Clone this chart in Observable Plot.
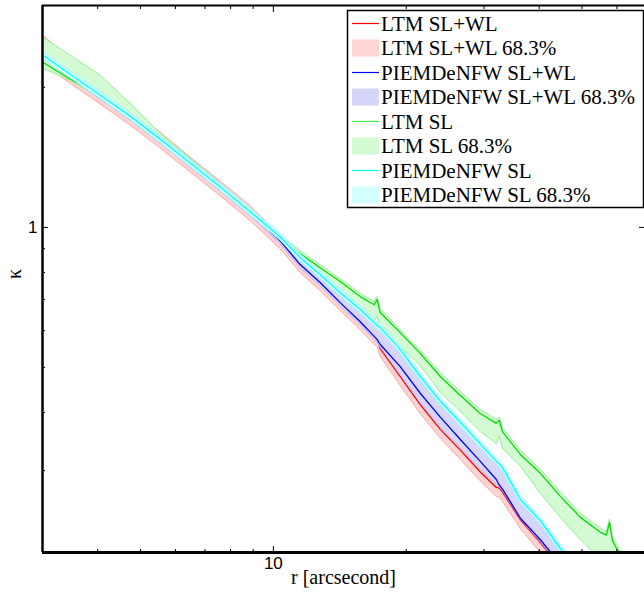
<!DOCTYPE html>
<html><head><meta charset="utf-8">
<script src="https://cdn.jsdelivr.net/npm/d3@7"></script>
<script src="https://cdn.jsdelivr.net/npm/@observablehq/plot@0.6"></script>
<style>body{margin:0;background:#fff} #chart{width:644px;height:592px}</style>
</head><body><div id="chart"></div>
<script>
// radius r [arcsecond] (shared grid)
const r = [3.00, 3.46, 4.05, 4.73, 5.53, 6.47, 7.57, 8.86, 10.36, 11.50, 12.76, 14.17, 15.73, 16.92, 17.18, 17.46, 19.38, 21.51, 23.88, 26.51, 29.42, 31.99, 32.49, 33.01, 36.26, 40.25, 44.67, 49.59, 55.05, 56.80, 57.70, 58.61, 61.11, 69.65];

// LTM SL+WL
const ltmSLWL    = [2.336, 2.127, 1.917, 1.728, 1.543, 1.370, 1.217, 1.075, 0.936, 0.832, 0.761, 0.689, 0.627, 0.583, 0.574, 0.549, 0.478, 0.416, 0.368, 0.332, 0.298, 0.276, 0.275, 0.270, 0.235, 0.210, 0.186, 0.164, 0.145, 0.140, 0.138, 0.135, 0.128, 0.114];
const ltmSLWLlo  = [2.245, 2.044, 1.843, 1.661, 1.483, 1.317, 1.170, 1.034, 0.900, 0.800, 0.731, 0.663, 0.603, 0.560, 0.555, 0.528, 0.457, 0.398, 0.352, 0.317, 0.285, 0.264, 0.263, 0.258, 0.225, 0.200, 0.178, 0.157, 0.139, 0.134, 0.132, 0.129, 0.123, 0.109];
const ltmSLWLhi  = [2.592, 2.313, 2.034, 1.806, 1.605, 1.418, 1.259, 1.113, 0.964, 0.852, 0.772, 0.700, 0.637, 0.594, 0.589, 0.571, 0.497, 0.433, 0.383, 0.345, 0.310, 0.287, 0.286, 0.280, 0.244, 0.218, 0.194, 0.171, 0.151, 0.146, 0.143, 0.140, 0.134, 0.118];
// PIEMDeNFW SL+WL
const piemdSLWL   = [2.336, 2.127, 1.917, 1.728, 1.543, 1.370, 1.217, 1.075, 0.936, 0.832, 0.761, 0.689, 0.627, 0.583, 0.574, 0.560, 0.502, 0.440, 0.391, 0.350, 0.314, 0.287, 0.279, 0.274, 0.237, 0.213, 0.189, 0.167, 0.148, 0.143, 0.140, 0.137, 0.130, 0.115];
const piemdSLWLlo = [2.301, 2.096, 1.889, 1.703, 1.520, 1.350, 1.199, 1.060, 0.923, 0.819, 0.750, 0.679, 0.618, 0.574, 0.566, 0.553, 0.482, 0.420, 0.372, 0.336, 0.302, 0.280, 0.277, 0.272, 0.236, 0.211, 0.187, 0.165, 0.146, 0.141, 0.139, 0.136, 0.129, 0.114];
const piemdSLWLhi = [2.382, 2.169, 1.955, 1.762, 1.573, 1.397, 1.241, 1.097, 0.955, 0.852, 0.784, 0.717, 0.659, 0.618, 0.609, 0.603, 0.541, 0.473, 0.418, 0.377, 0.338, 0.311, 0.307, 0.302, 0.258, 0.231, 0.202, 0.178, 0.157, 0.152, 0.149, 0.147, 0.140, 0.124];
// LTM SL
const ltmSL   = [2.268, 2.085, 1.927, 1.754, 1.573, 1.397, 1.235, 1.086, 0.950, 0.878, 0.819, 0.765, 0.710, 0.682, 0.700, 0.656, 0.594, 0.536, 0.478, 0.435, 0.398, 0.379, 0.385, 0.364, 0.325, 0.296, 0.264, 0.238, 0.221, 0.218, 0.232, 0.212, 0.197, 0.175];
const ltmSLlo = [2.201, 2.075, 1.898, 1.728, 1.543, 1.370, 1.217, 1.075, 0.941, 0.861, 0.792, 0.728, 0.666, 0.627, 0.646, 0.603, 0.555, 0.505, 0.442, 0.402, 0.364, 0.343, 0.356, 0.335, 0.307, 0.268, 0.238, 0.213, 0.194, 0.187, 0.194, 0.182, 0.174, 0.155];
const ltmSLhi = [2.566, 2.348, 2.127, 1.852, 1.597, 1.411, 1.247, 1.097, 0.964, 0.891, 0.832, 0.776, 0.721, 0.693, 0.710, 0.669, 0.603, 0.544, 0.488, 0.444, 0.406, 0.387, 0.391, 0.372, 0.332, 0.302, 0.270, 0.243, 0.226, 0.222, 0.236, 0.216, 0.202, 0.180];
// PIEMDeNFW SL
const piemdSL   = [2.348, 2.137, 1.927, 1.737, 1.550, 1.377, 1.223, 1.081, 0.955, 0.861, 0.792, 0.724, 0.666, 0.624, 0.615, 0.609, 0.546, 0.478, 0.423, 0.381, 0.342, 0.314, 0.310, 0.305, 0.260, 0.234, 0.204, 0.180, 0.159, 0.153, 0.150, 0.148, 0.142, 0.125];
const piemdSLlo = [2.308, 2.100, 1.894, 1.707, 1.523, 1.353, 1.202, 1.063, 0.939, 0.846, 0.778, 0.712, 0.655, 0.613, 0.604, 0.599, 0.537, 0.470, 0.416, 0.374, 0.336, 0.309, 0.305, 0.300, 0.256, 0.230, 0.201, 0.177, 0.156, 0.150, 0.147, 0.145, 0.140, 0.123];
const piemdSLhi = [2.389, 2.174, 1.961, 1.767, 1.577, 1.401, 1.244, 1.100, 0.972, 0.876, 0.806, 0.737, 0.678, 0.635, 0.626, 0.620, 0.556, 0.486, 0.430, 0.388, 0.348, 0.319, 0.315, 0.310, 0.265, 0.238, 0.208, 0.183, 0.162, 0.156, 0.153, 0.151, 0.144, 0.127];

// ticks
const xMinorTicks = [4, 5, 6, 7, 8, 9, 20, 30, 40, 50, 60];
const xMajorTicks = [10];
const yMinorTicks = [0.3, 0.4, 0.5, 0.6, 0.7, 0.8, 0.9, 2];
const yMajorTicks = [1];

const seriesNames = ["LTM SL+WL", "PIEMDeNFW SL+WL", "LTM SL", "PIEMDeNFW SL"];
const lineColors  = ["#ff0000", "#0000ff", "#00dd00", "#00ffff"];
const bandFills   = ["#ffd4d4", "#d6d6fa", "#d4fad4", "#d4ffff"];
const bandEdges   = ["#ffa8a8", "#b8b8f4", "#99ee99", "#99ffff"];
const legendLineColors = ["#ff0000", "#0000ff", "#44ee44", "#00ffff"];
const lines = [ltmSLWL, piemdSLWL, ltmSL, piemdSL];
const los = [ltmSLWLlo, piemdSLWLlo, ltmSLlo, piemdSLlo];
const his = [ltmSLWLhi, piemdSLWLhi, ltmSLhi, piemdSLhi];

const tables = lines.map((L, i) => r.map((x, j) => ({r: x, k: L[j], lo: los[i][j], hi: his[i][j]})));

const marks = [];
// each model: 68.3% band (opaque pale patch with edge), then its median line
tables.forEach((t, i) => {
  marks.push(Plot.areaY(t, {x: "r", y1: "lo", y2: "hi", fill: bandFills[i], clip: true}));
  marks.push(Plot.lineY(t, {x: "r", y: "lo", stroke: bandEdges[i], strokeWidth: 1, clip: true}));
  marks.push(Plot.lineY(t, {x: "r", y: "hi", stroke: bandEdges[i], strokeWidth: 1, clip: true}));
  marks.push(Plot.lineY(t, {x: "r", y: "k", stroke: lineColors[i], strokeWidth: 1.3, clip: true}));
});

const serif = "'Liberation Serif', 'Times New Roman', serif";
const sans = "'Liberation Sans', Arial, Helvetica, sans-serif";

marks.push(
  Plot.ruleY([3], {stroke: "black", strokeWidth: 2}),
  Plot.ruleX([3], {stroke: "black", strokeWidth: 2.5}),
  Plot.ruleY([0.2], {stroke: "black", strokeWidth: 3}),
  Plot.axisX(xMinorTicks, {anchor: "bottom", tickSize: -3, tickFormat: () => "", label: null}),
  Plot.axisX(xMajorTicks, {anchor: "bottom", tickSize: -6, tickFormat: () => "", label: null}),
  Plot.axisX(xMinorTicks, {anchor: "top", tickSize: -3, tickFormat: () => "", label: null}),
  Plot.axisX(xMajorTicks, {anchor: "top", tickSize: -6, tickFormat: () => "", label: null}),
  Plot.axisY(yMinorTicks, {anchor: "left", tickSize: -3, tickFormat: () => "", label: null}),
  Plot.axisY(yMajorTicks, {anchor: "left", tickSize: -6, tickFormat: () => "", label: null}),
  Plot.axisY(yMajorTicks, {anchor: "right", tickSize: -6, tickFormat: () => "", label: null}),
  Plot.text(xMajorTicks, {x: d => d, frameAnchor: "bottom", text: d => String(d), dy: 16, fontSize: 17, fontFamily: sans, fill: "black"}),
  Plot.text(yMajorTicks, {y: d => d, frameAnchor: "left", text: d => String(d), dx: -5, textAnchor: "end", fontSize: 17, fontFamily: sans, fill: "black"}),
  Plot.text(["r [arcsecond]"], {frameAnchor: "bottom", text: d => d, dy: 31, fontSize: 20, fontFamily: serif, fill: "black"}),
  Plot.text(["κ"], {frameAnchor: "left", text: d => d, dx: -28, rotate: -90, fontSize: 20, fontFamily: serif, fill: "black"})
);

const chart = Plot.plot({
  width: 644,
  height: 592,
  marginLeft: 42,
  marginRight: 0,
  marginTop: 5,
  marginBottom: 40,
  x: {type: "log", domain: [3, 70], range: [42, 646], label: null},
  y: {type: "log", domain: [0.2, 3], label: null},
  style: {background: "white", fontFamily: sans, overflow: "visible"},
  marks
});

// legend box inside the plot area
const svg = d3.select(chart);
const lg = svg.append("g").attr("class", "legend").attr("text-anchor", "start");
lg.append("rect").attr("x", 347.5).attr("y", 10.5).attr("width", 296).attr("height", 197)
  .attr("fill", "white").attr("stroke", "black").attr("stroke-width", 1.5);
const legendItems = [];
seriesNames.forEach((n, i) => {
  legendItems.push({label: n, type: "line", color: legendLineColors[i]});
  legendItems.push({label: n + " 68.3%", type: "patch", color: bandFills[i]});
});
legendItems.forEach((it, i) => {
  const cy = 23.5 + i * 24.5;
  if (it.type === "line") {
    lg.append("line").attr("x1", 352).attr("x2", 379).attr("y1", cy).attr("y2", cy)
      .attr("stroke", it.color).attr("stroke-width", 1.2);
  } else {
    lg.append("rect").attr("x", 352).attr("y", cy - 8.5).attr("width", 27).attr("height", 17)
      .attr("fill", it.color);
  }
  lg.append("text").attr("x", 381).attr("y", cy + 7).attr("font-family", serif)
    .attr("text-anchor", "start").attr("font-size", 21).attr("fill", "black").text(it.label);
});

document.getElementById("chart").appendChild(chart);
</script>
</body></html>
